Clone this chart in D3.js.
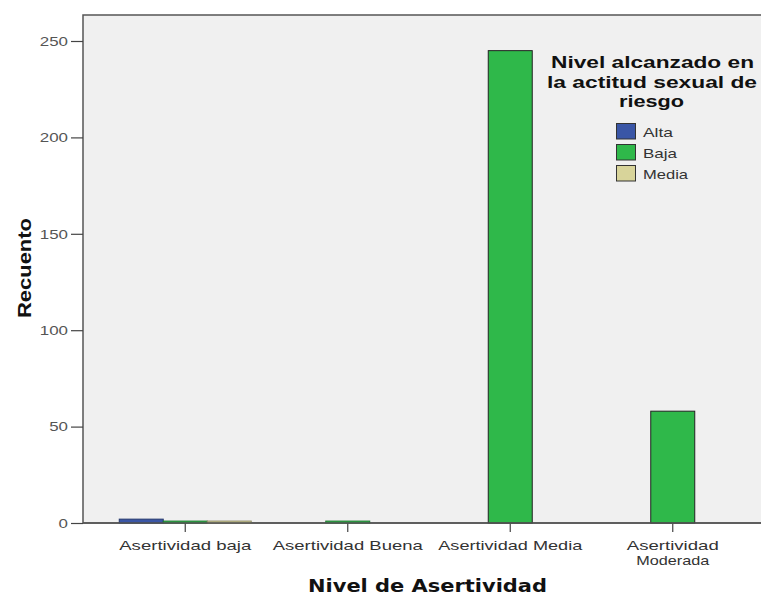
<!DOCTYPE html>
<html><head><meta charset="utf-8">
<script src="https://cdn.jsdelivr.net/npm/d3@7"></script>
<style>body{margin:0;background:#fff}svg{display:block}</style>
</head><body>
<script>
const categories = ["Asertividad baja","Asertividad Buena","Asertividad Media","Asertividad Moderada"];
const series = ["Alta","Baja","Media"];
const alta  = [2, 0, 0, 0];
const baja  = [1, 1, 245, 58];
const media = [1, 0, 0, 0];
const yTicks = [0, 50, 100, 150, 200, 250];
const colors = ["#3a56a6", "#2fb84a", "#d8d49a"];

(function(){
const W = 761, H = 596;
const FONT = "Liberation Sans, Arial, sans-serif";
const svg = d3.select("body").append("svg").attr("width", W).attr("height", H);
const pLeft = 83, pTop = 15, pBottom = 523, pRight = 770;
svg.append("rect").attr("x", pLeft).attr("y", pTop).attr("width", pRight-pLeft).attr("height", pBottom-pTop)
  .attr("fill", "#f0f0f0").attr("stroke", "#555").attr("stroke-width", 1.5);

const x = d3.scaleBand().domain(categories).range([104, 754]).paddingInner(0).paddingOuter(0);
const x1 = d3.scaleBand().domain(series).range([0, x.bandwidth()]).paddingInner(0).paddingOuter(0.3466);
const y = d3.scaleLinear().domain([0, 250]).range([pBottom, 41]);

function fit(sel, w) {
  sel.attr("textLength", w).attr("lengthAdjust", "spacingAndGlyphs");
  return sel;
}

const data = [alta, baja, media];
categories.forEach((c, i) => {
  series.forEach((s, j) => {
    const v = data[j][i];
    if (!v) return;
    const small = v < 5;
    svg.append("rect").attr("x", x(c) + x1(s)).attr("y", y(v))
      .attr("width", x1.bandwidth()).attr("height", pBottom - y(v))
      .attr("fill", colors[j])
      .attr("stroke", small ? d3.color(colors[j]).darker(1.2) : "#222")
      .attr("stroke-width", 1);
  });
});

const yAxis = svg.append("g").attr("transform", `translate(${pLeft},0)`)
  .call(d3.axisLeft(y).tickValues(yTicks).tickSize(12).tickPadding(3).tickSizeOuter(0));
yAxis.select(".domain").remove();
yAxis.selectAll("line").attr("stroke", "#444").attr("stroke-width", 1.2);
yAxis.selectAll("text").attr("font-family", FONT).attr("font-size", 13.5).attr("fill", "#555")
  .each(function(d){ const n = String(d).length; d3.select(this).attr("textLength", n*9.4).attr("lengthAdjust","spacingAndGlyphs"); });

const xAxis = svg.append("g").attr("transform", `translate(0,${pBottom})`)
  .call(d3.axisBottom(x).tickSize(9).tickSizeOuter(0).tickFormat(""));
xAxis.select(".domain").remove();
xAxis.selectAll("line").attr("stroke", "#444").attr("stroke-width", 1.2);
svg.append("line").attr("x1", pLeft).attr("x2", W).attr("y1", pBottom).attr("y2", pBottom).attr("stroke", "#555").attr("stroke-width", 1.5);

const labelW = {"Asertividad baja":132, "Asertividad Buena":150, "Asertividad Media":144};
const xl = svg.append("g").attr("font-family", FONT).attr("font-size", 13.5).attr("fill", "#333");
categories.forEach(c => {
  const cx = x(c) + x.bandwidth()/2;
  if (c === "Asertividad Moderada") {
    fit(xl.append("text").attr("x", cx - 46).attr("y", 550).text("Asertividad"), 92);
    fit(xl.append("text").attr("x", cx - 36.5).attr("y", 565).text("Moderada"), 73);
  } else {
    fit(xl.append("text").attr("x", cx - labelW[c]/2).attr("y", 550).text(c), labelW[c]);
  }
});

fit(svg.append("text").attr("x", 308).attr("y", 592)
  .attr("font-family", "DejaVu Sans, sans-serif").attr("font-weight", "bold").attr("font-size", 18).attr("fill", "#111")
  .text("Nivel de Asertividad"), 239);
fit(svg.append("text").attr("transform", "translate(31,318) rotate(-90)")
  .attr("font-family", FONT).attr("font-weight", "bold").attr("font-size", 18).attr("fill", "#111")
  .text("Recuento"), 100);

const lg = svg.append("g").attr("font-family", FONT);
const legT = [["Nivel alcanzado en", 551, 203, 68], ["la actitud sexual de", 547, 210, 88], ["riesgo", 619, 65, 107]];
legT.forEach(([t, lx, lw, ly]) => {
  fit(lg.append("text").attr("x", lx).attr("y", ly)
    .attr("font-weight", "bold").attr("font-size", 16).attr("fill", "#111").text(t), lw);
});
const legW = [30, 34, 45];
series.forEach((s, i) => {
  lg.append("rect").attr("x", 616.5).attr("y", 123.5 + i*21).attr("width", 19).attr("height", 15.5)
    .attr("fill", colors[i]).attr("stroke", "#333").attr("stroke-width", 1);
  fit(lg.append("text").attr("x", 643).attr("y", 137 + i*21).attr("font-size", 13.5).attr("fill", "#333").text(s), legW[i]);
});
})();
</script>
</body></html>
